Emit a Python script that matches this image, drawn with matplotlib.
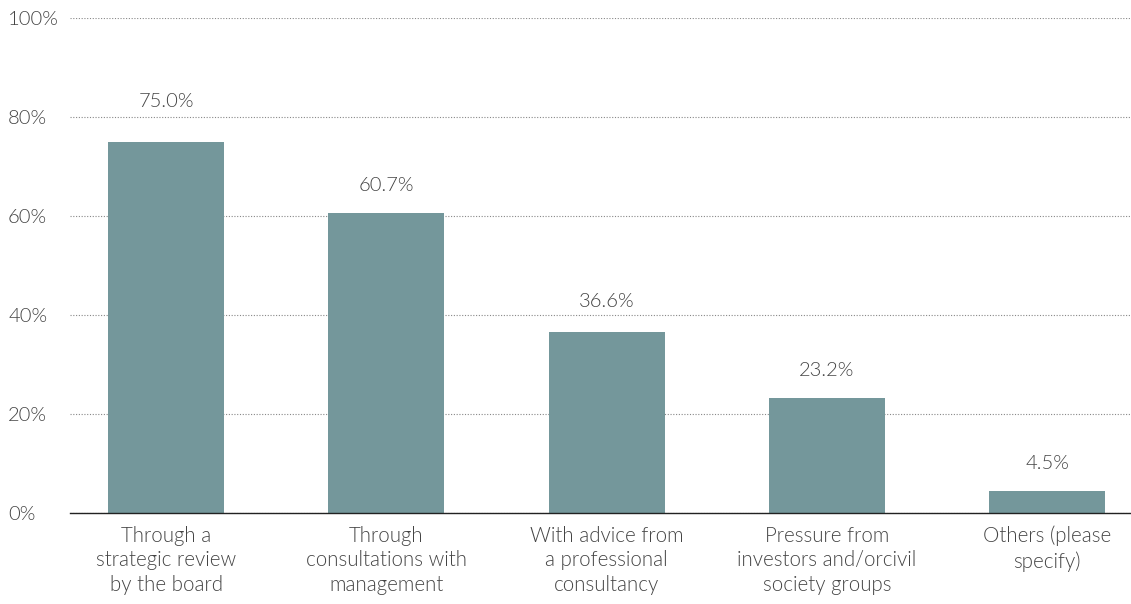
import matplotlib
matplotlib.use("Agg")
import matplotlib.pyplot as plt

categories = [
    "Through a\nstrategic review\nby the board",
    "Through\nconsultations with\nmanagement",
    "With advice from\na professional\nconsultancy",
    "Pressure from\ninvestors and/orcivil\nsociety groups",
    "Others (please\nspecify)",
]
values = [75.0, 60.7, 36.6, 23.2, 4.5]
yticks = [0, 20, 40, 60, 80, 100]
ytick_labels = ["0%", "20%", "40%", "60%", "80%", "100%"]

plt.rcParams['font.family'] = ['Lato', 'DejaVu Sans']
plt.rcParams['font.weight'] = 300

text_color = '#444444'
bar_color = '#74979b'

fig = plt.figure(figsize=(11.31, 6.04), dpi=100)
ax = fig.add_axes([70/1131, (604-513)/604, 1 - 70/1131, (513-18)/604])

x = list(range(len(categories)))
ax.bar(x, values, width=0.527, color=bar_color, zorder=3)

# label offsets (pixels) – the first label is lifted clear of the 80% gridline
label_offsets = [32, 19, 22, 19, 19]
for xi, v, off in zip(x, values, label_offsets):
    ax.annotate(f"{v:.1f}%", (xi, v), xytext=(0, off), textcoords='offset pixels',
                ha='center', va='bottom', fontsize=14.5, color=text_color, fontweight=300)

ax.set_xlim(-0.436, 4.38)
ax.set_ylim(0, 100)
ax.set_yticks(yticks)
ax.set_yticklabels(ytick_labels)
ax.set_xticks(x)
ax.set_xticklabels(categories, linespacing=1.3)

ax.tick_params(axis='y', length=0, pad=44.6, labelsize=14.5, labelcolor=text_color)
for lab in ax.get_yticklabels():
    lab.set_horizontalalignment('left')
    lab.set_fontweight(300)
ax.tick_params(axis='x', length=0, pad=9, labelsize=14.8, labelcolor=text_color)
for lab in ax.get_xticklabels():
    lab.set_verticalalignment('top')
    lab.set_fontweight(300)

ax.yaxis.grid(True, linestyle=(0, (1, 1.5)), color='#888888', linewidth=0.8, zorder=0)
for s in ['top', 'right', 'left']:
    ax.spines[s].set_visible(False)
ax.spines['bottom'].set_color('#222222')
ax.spines['bottom'].set_linewidth(1.0)
ax.spines['bottom'].set_zorder(4)

fig.savefig("out.png", dpi=100)
